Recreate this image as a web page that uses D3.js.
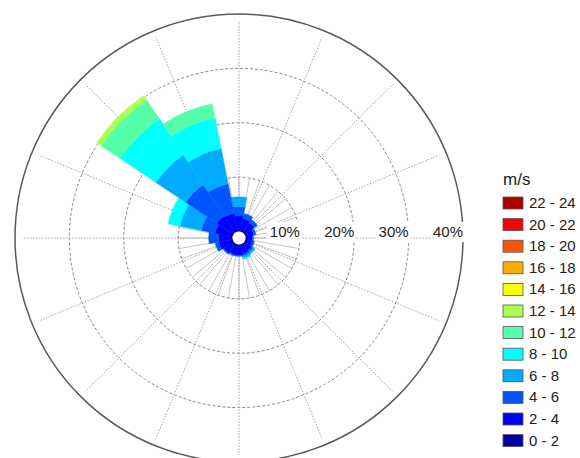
<!DOCTYPE html>
<html>
<head>
<meta charset="utf-8">
<script src="https://cdn.jsdelivr.net/npm/d3@7"></script>
<style>
  body { margin: 0; background: #fff; }
  text { font-family: "Liberation Sans", Arial, sans-serif; }
</style>
</head>
<body>
<script>
// wind rose, 16 directions, frequency in % per speed band (m/s)
const directions = [0, 22.5, 45, 67.5, 90, 112.5, 135, 157.5, 180, 202.5, 225, 247.5, 270, 292.5, 315, 337.5];
const speedBands = ["0 - 2", "2 - 4", "4 - 6", "6 - 8", "8 - 10", "10 - 12", "12 - 14", "14 - 16", "16 - 18", "18 - 20", "20 - 22", "22 - 24"];

//                 N    NNE  NE   ENE  E    ESE  SE   SSE  S    SSW  SW   WSW  W    WNW  NW   NNW
const f0_2   = [0.6, 0.5, 0.5, 0.5, 0.5, 0.5, 0.5, 0.5, 0.5, 0.5, 0.5, 0.6, 0.6, 0.6, 0.6, 0.6];
const f2_4   = [2.3, 2.0, 1.7, 1.1, 0.8, 0.8, 1.1, 1.3, 1.5, 1.5, 1.7, 2.0, 2.0, 2.7, 3.1, 2.9];
const f4_6   = [1.7, 0.9, 0.7, 0.4, 0.2, 0.4, 0.4, 0.4, 0.2, 0.2, 0.2, 0.7, 1.8, 2.6, 6.9, 5.5];
const f6_8   = [1.8, 0, 0, 0, 0, 0, 0.4, 0.4, 0, 0, 0, 0, 0, 4.0, 6.6, 6.6];
const f8_10  = [0, 0, 0, 0, 0, 0, 0, 0.2, 0, 0, 0, 0, 0, 2.2, 7.9, 5.7];
const f10_12 = [0, 0, 0, 0, 0, 0, 0, 0, 0, 0, 0, 0, 0, 0, 4.2, 2.7];
const f12_14 = [0, 0, 0, 0, 0, 0, 0, 0, 0, 0, 0, 0, 0, 0, 1.0, 0];
const f14_16 = [0, 0, 0, 0, 0, 0, 0, 0, 0, 0, 0, 0, 0, 0, 0, 0];
const f16_18 = [0, 0, 0, 0, 0, 0, 0, 0, 0, 0, 0, 0, 0, 0, 0, 0];
const f18_20 = [0, 0, 0, 0, 0, 0, 0, 0, 0, 0, 0, 0, 0, 0, 0, 0];
const f20_22 = [0, 0, 0, 0, 0, 0, 0, 0, 0, 0, 0, 0, 0, 0, 0, 0];
const f22_24 = [0, 0, 0, 0, 0, 0, 0, 0, 0, 0, 0, 0, 0, 0, 0, 0];

const ringTicks = [10, 20, 30, 40];
const ringLabels = ["10%", "20%", "30%", "40%"];

// jet colormap, 12 steps
const bandColors = ["#0000aa", "#0000ff", "#0055ff", "#00aaff", "#00ffff", "#55ffaa",
                    "#aaff55", "#ffff00", "#ffaa00", "#ff5500", "#ff0000", "#aa0000"];

const WIDTH = 580, HEIGHT = 458;
const CX = 239, CY = 238;
const HOLE = 6.5, R_OUT = 224;

const svg = d3.select("body").append("svg")
    .attr("width", WIDTH)
    .attr("height", HEIGHT)
    .style("display", "block");

svg.append("rect").attr("width", WIDTH).attr("height", HEIGHT).attr("fill", "#fff");

const rScale = d3.scaleLinear().domain([0, 40]).range([HOLE, R_OUT]);
const rad = a => a * Math.PI / 180;

const g = svg.append("g").attr("transform", `translate(${CX},${CY})`);

// short spokes near the centre every 10 deg
const shortSpokes = d3.range(0, 360, 10);
g.selectAll(".short-spoke")
    .data(shortSpokes)
    .join("line")
    .attr("class", "short-spoke")
    .attr("x1", d => HOLE * Math.sin(rad(d)))
    .attr("y1", d => -HOLE * Math.cos(rad(d)))
    .attr("x2", d => rScale(10) * Math.sin(rad(d)))
    .attr("y2", d => -rScale(10) * Math.cos(rad(d)))
    .attr("stroke", "#b8b8b8")
    .attr("stroke-width", 0.8);

// main spokes
const SPOKE_END = 217;
g.selectAll(".spoke")
    .data(directions)
    .join("line")
    .attr("class", "spoke")
    .attr("x1", d => HOLE * Math.sin(rad(d)))
    .attr("y1", d => -HOLE * Math.cos(rad(d)))
    .attr("x2", d => SPOKE_END * Math.sin(rad(d)))
    .attr("y2", d => -SPOKE_END * Math.cos(rad(d)))
    .attr("stroke", "#999")
    .attr("stroke-width", 0.9)
    .attr("stroke-dasharray", "1.5,1.5");

// rings
g.selectAll(".ring")
    .data(ringTicks.slice(0, -1))
    .join("circle")
    .attr("class", "ring")
    .attr("r", d => rScale(d))
    .attr("fill", "none")
    .attr("stroke", "#888")
    .attr("stroke-width", 1)
    .attr("stroke-dasharray", "3,2");

g.append("circle")
    .attr("r", rScale(40))
    .attr("fill", "none")
    .attr("stroke", "#5a5a5a")
    .attr("stroke-width", 1.5);

// stack the bands
const bandData = [f0_2, f2_4, f4_6, f6_8, f8_10, f10_12, f12_14, f14_16, f16_18, f18_20, f20_22, f22_24];
const pieces = [];
directions.forEach((dir, i) => {
    let cum = 0;
    bandData.forEach((arr, b) => {
        const v = arr[i];
        if (v > 0) pieces.push({dir, b, from: cum, to: cum + v});
        cum += v;
    });
});

const halfW = 360 / directions.length / 2;
const arc = d3.arc()
    .innerRadius(d => rScale(d.from))
    .outerRadius(d => rScale(d.to))
    .startAngle(d => rad(d.dir - halfW))
    .endAngle(d => rad(d.dir + halfW));

g.selectAll(".petal")
    .data(pieces)
    .join("path")
    .attr("class", "petal")
    .attr("d", arc)
    .attr("fill", d => bandColors[d.b])
    .attr("stroke", d => bandColors[d.b])
    .attr("stroke-width", 0.4);

g.append("circle").attr("r", HOLE).attr("fill", "#fff");

// ring labels on the east axis
const lab = g.selectAll(".ring-label")
    .data(ringTicks)
    .join("g")
    .attr("class", "ring-label");

lab.append("rect")
    .attr("x", d => rScale(d) - 33)
    .attr("y", -16)
    .attr("width", 35)
    .attr("height", 20)
    .attr("fill", "#fff");

lab.append("text")
    .attr("x", d => rScale(d))
    .attr("y", -1)
    .attr("text-anchor", "end")
    .attr("font-size", 15)
    .attr("fill", "#222")
    .text((d, i) => ringLabels[i]);

// legend
const LEG_X = 503, LEG_Y = 197, LEG_STEP = 21.6;
svg.append("text")
    .attr("x", LEG_X)
    .attr("y", 185)
    .attr("font-size", 17)
    .attr("fill", "#222")
    .text("m/s");

const legendOrder = d3.range(speedBands.length).reverse();
const leg = svg.selectAll(".leg")
    .data(legendOrder)
    .join("g")
    .attr("class", "leg")
    .attr("transform", (d, i) => `translate(${LEG_X},${LEG_Y + i * LEG_STEP})`);

leg.append("rect")
    .attr("width", 20)
    .attr("height", 12)
    .attr("fill", d => bandColors[d])
    .attr("stroke", "#555")
    .attr("stroke-width", 0.8);

leg.append("text")
    .attr("x", 26)
    .attr("y", 11)
    .attr("font-size", 15)
    .attr("fill", "#222")
    .text(d => speedBands[d]);
</script>
</body>
</html>
